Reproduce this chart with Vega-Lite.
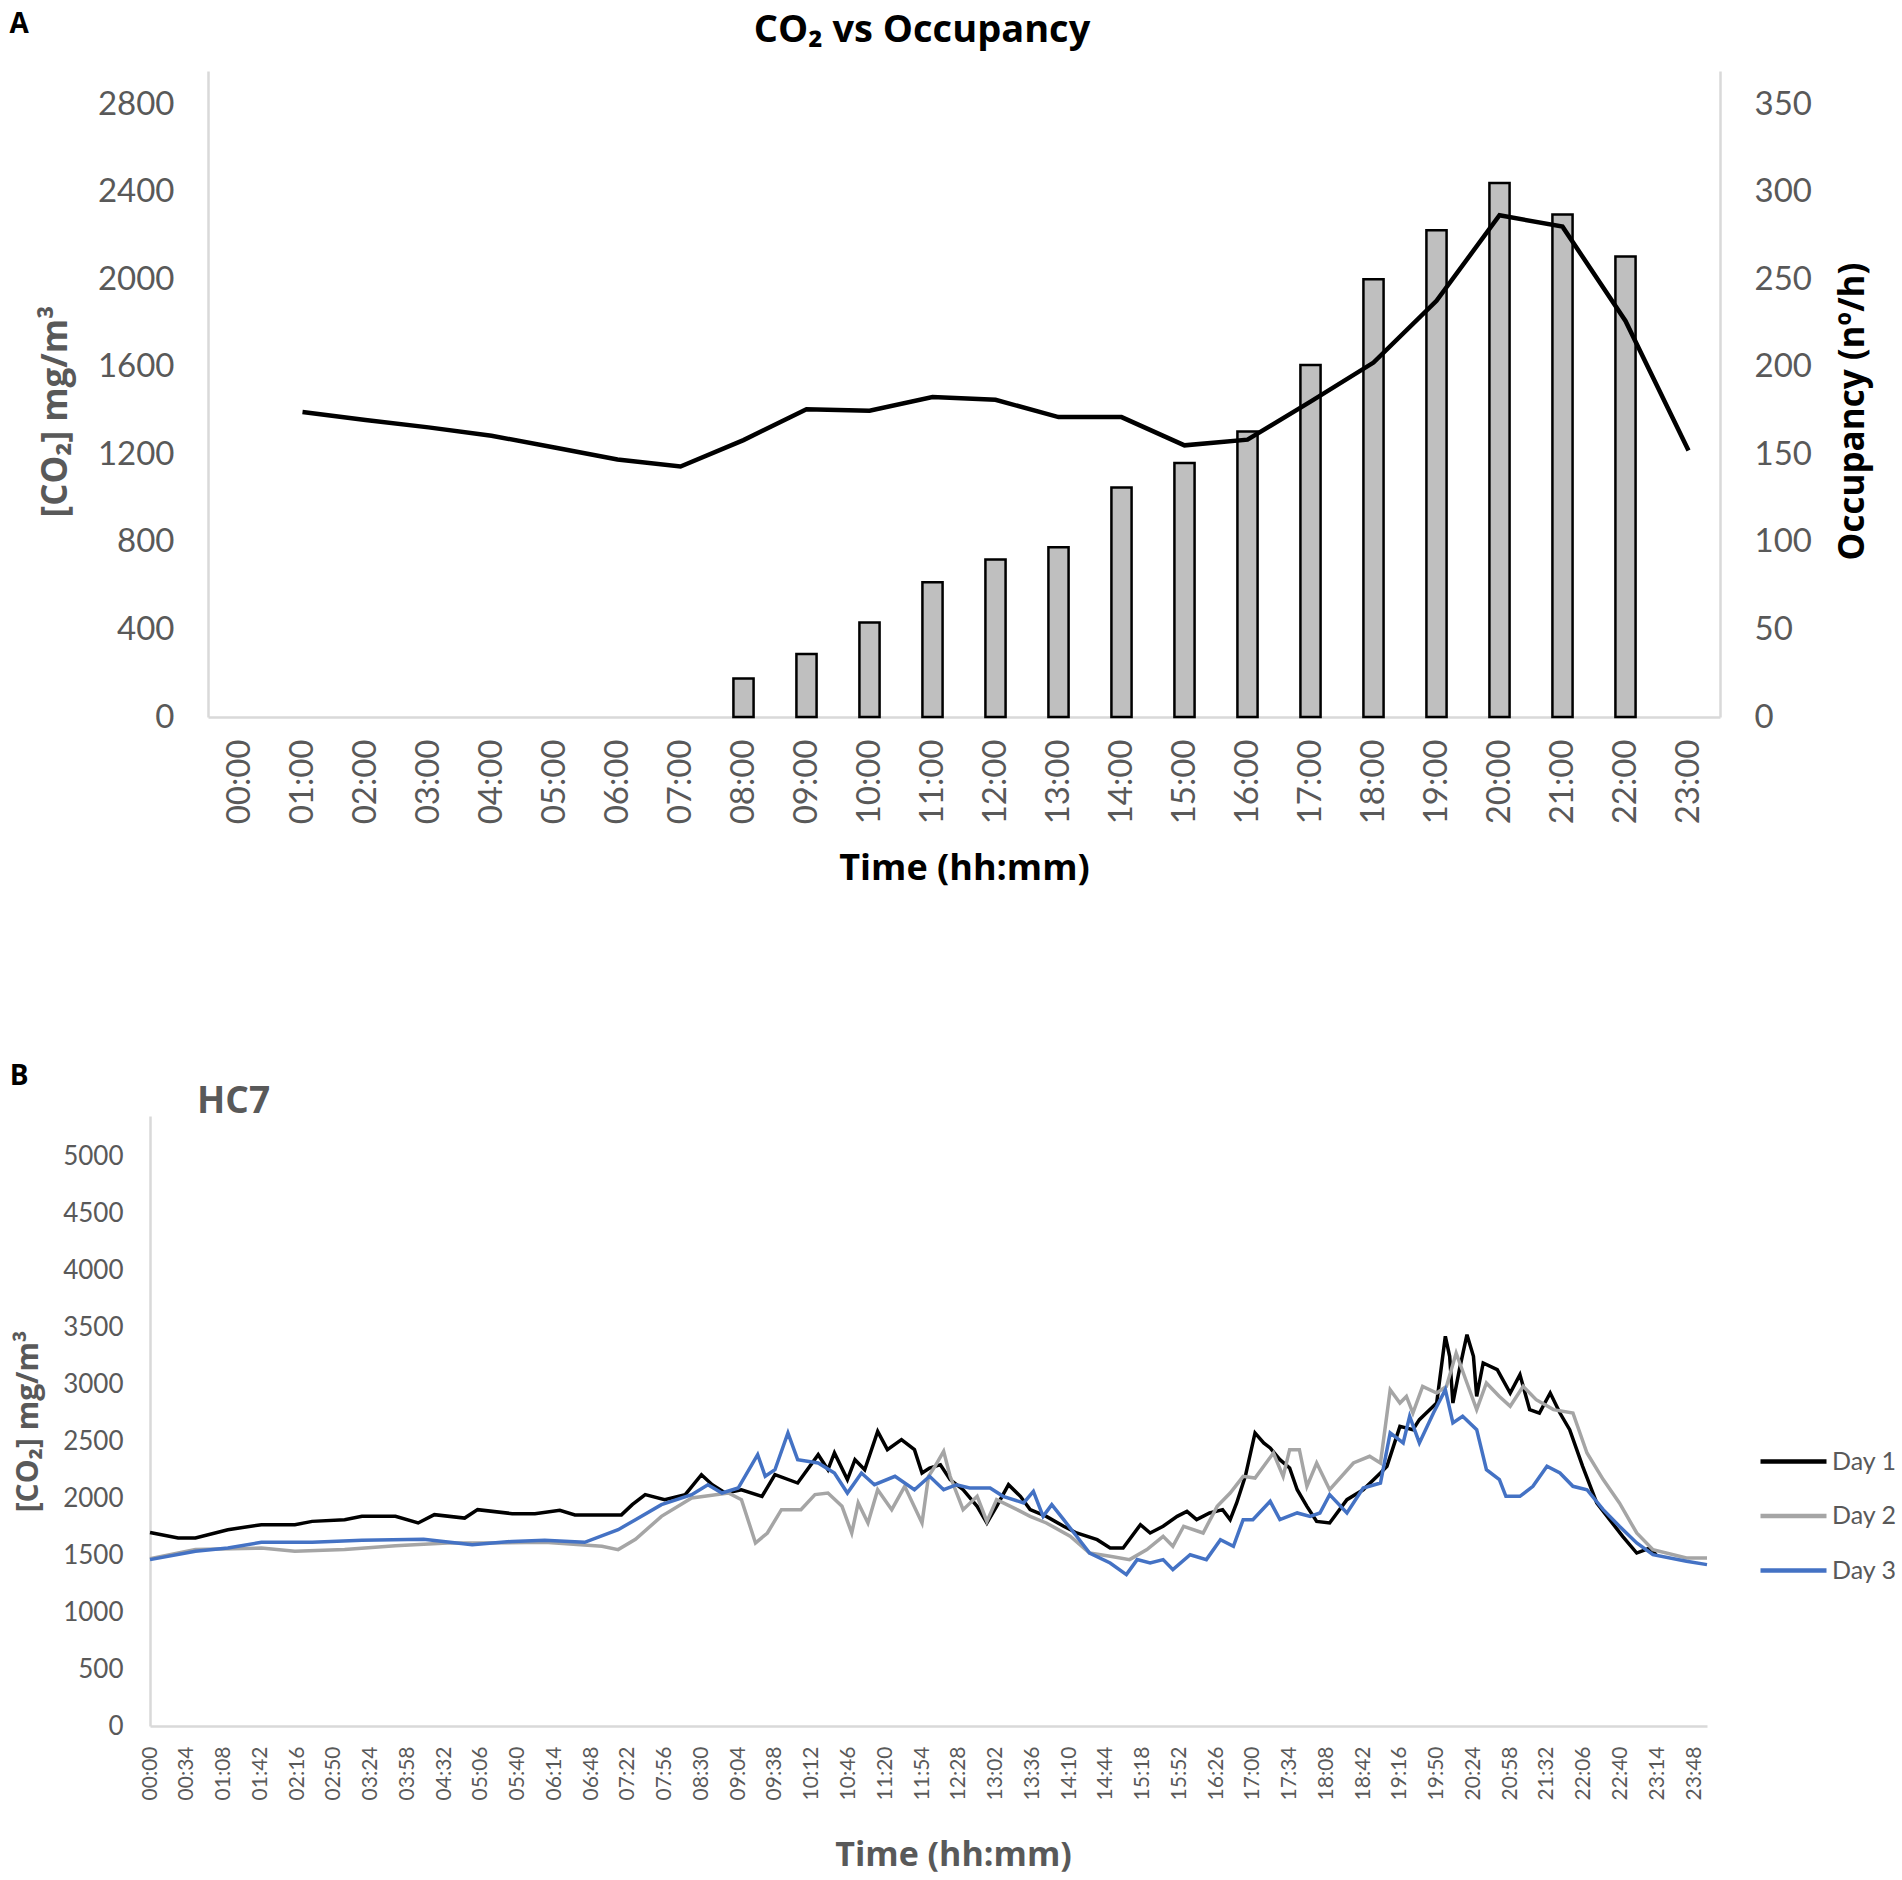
{
  "$schema": "https://vega.github.io/schema/vega-lite/v6.json",
  "background": "white",
  "padding": {"left": 9, "top": 11, "right": 5, "bottom": 5},
  "config": {
    "font": "Lato",
    "view": {"stroke": null},
    "axis": {
      "grid": false,
      "ticks": false,
      "domainColor": "#D9D9D9",
      "domainWidth": 2.5,
      "labelColor": "#595959",
      "labelFont": "Lato",
      "titleFont": "Open Sans",
      "titleFontWeight": "bold"
    },
    "title": {"font": "Open Sans", "fontWeight": "bold", "color": "black"}
  },
  "concat": [
    {
      "title": {"text": "A", "anchor": "start", "frame": "bounds", "fontSize": 28, "dx": -29, "dy": 27, "offset": 0},
      "vconcat": [
        {
          "width": 1570,
          "height": 646,
          "title": {"text": "CO₂ vs Occupancy", "fontSize": 38, "anchor": "middle", "frame": "group", "dx": -13, "offset": 21},
          "data": {
            "values": [
              {"hour": "00:00", "co2": null, "occ": null},
              {"hour": "01:00", "co2": 1393, "occ": null},
              {"hour": "02:00", "co2": 1357, "occ": null},
              {"hour": "03:00", "co2": 1323, "occ": null},
              {"hour": "04:00", "co2": 1285, "occ": null},
              {"hour": "05:00", "co2": 1231, "occ": null},
              {"hour": "06:00", "co2": 1176, "occ": null},
              {"hour": "07:00", "co2": 1144, "occ": null},
              {"hour": "08:00", "co2": 1265, "occ": 22},
              {"hour": "09:00", "co2": 1406, "occ": 36},
              {"hour": "10:00", "co2": 1399, "occ": 54},
              {"hour": "11:00", "co2": 1462, "occ": 77},
              {"hour": "12:00", "co2": 1449, "occ": 90},
              {"hour": "13:00", "co2": 1370, "occ": 97},
              {"hour": "14:00", "co2": 1370, "occ": 131},
              {"hour": "15:00", "co2": 1241, "occ": 145},
              {"hour": "16:00", "co2": 1267, "occ": 163},
              {"hour": "17:00", "co2": 1441, "occ": 201},
              {"hour": "18:00", "co2": 1619, "occ": 250},
              {"hour": "19:00", "co2": 1901, "occ": 278},
              {"hour": "20:00", "co2": 2292, "occ": 305},
              {"hour": "21:00", "co2": 2240, "occ": 287},
              {"hour": "22:00", "co2": 1809, "occ": 263},
              {"hour": "23:00", "co2": 1217, "occ": null}
            ]
          },
          "encoding": {
            "x": {
              "field": "hour",
              "type": "ordinal",
              "scale": {
                "domain": ["00:00","01:00","02:00","03:00","04:00","05:00","06:00","07:00","08:00","09:00","10:00","11:00","12:00","13:00","14:00","15:00","16:00","17:00","18:00","19:00","20:00","21:00","22:00","23:00"],
                "range": [58, 1570],
                "paddingInner": 0,
                "paddingOuter": 0
              },
              "axis": {
                "title": "Time (hh:mm)",
                "labelAngle": 270,
                "labelFontSize": 33,
                "labelPadding": 22,
                "titleFontSize": 36,
                "titleColor": "black",
                "titlePadding": 28
              }
            }
          },
          "layer": [
            {
              "mark": {"type": "bar", "fill": "#BFBFBF", "stroke": "black", "strokeWidth": 2.5, "width": {"band": 0.32}},
              "encoding": {
                "y": {
                  "field": "occ",
                  "type": "quantitative",
                  "scale": {"domain": [0, 368.9], "nice": false},
                  "axis": {
                    "orient": "right",
                    "values": [0, 50, 100, 150, 200, 250, 300, 350],
                    "format": "d",
                    "title": "Occupancy (nº/h)",
                    "titleAngle": 270,
                    "titleBaseline": "top",
                    "titleY": 340,
                    "labelFontSize": 33,
                    "labelPadding": 34,
                    "titleFontSize": 35,
                    "titleColor": "black",
                    "titlePadding": 24
                  }
                }
              }
            },
            {
              "mark": {"type": "line", "color": "black", "strokeWidth": 4.5},
              "encoding": {
                "y": {
                  "field": "co2",
                  "type": "quantitative",
                  "scale": {"domain": [0, 2951], "nice": false},
                  "axis": {
                    "orient": "left",
                    "offset": -58,
                    "values": [0, 400, 800, 1200, 1600, 2000, 2400, 2800],
                    "format": "d",
                    "title": "[CO₂] mg/m³",
                    "titleY": 340,
                    "labelFontSize": 33,
                    "labelPadding": 34,
                    "titleFontSize": 35,
                    "titleColor": "#595959",
                    "titlePadding": 24
                  }
                }
              }
            }
          ],
          "resolve": {"scale": {"y": "independent"}}
        }
      ]
    },
    {
      "title": {"text": "B", "anchor": "start", "frame": "bounds", "fontSize": 28, "dx": -4, "offset": -8},
      "vconcat": [
        {
          "width": 1557,
          "height": 610,
          "title": {"text": "HC7", "anchor": "start", "frame": "group", "dx": 47, "fontSize": 37, "color": "#595959", "offset": -5},
          "data": {
            "values": [
              {"day": "Day 1", "min": 0, "co2": 1700}, {"day": "Day 1", "min": 26, "co2": 1652}, {"day": "Day 1", "min": 42, "co2": 1652},
              {"day": "Day 1", "min": 72, "co2": 1725}, {"day": "Day 1", "min": 103, "co2": 1769}, {"day": "Day 1", "min": 134, "co2": 1769},
              {"day": "Day 1", "min": 150, "co2": 1798}, {"day": "Day 1", "min": 180, "co2": 1813}, {"day": "Day 1", "min": 196, "co2": 1842},
              {"day": "Day 1", "min": 227, "co2": 1842}, {"day": "Day 1", "min": 248, "co2": 1784}, {"day": "Day 1", "min": 263, "co2": 1857},
              {"day": "Day 1", "min": 291, "co2": 1827}, {"day": "Day 1", "min": 303, "co2": 1901}, {"day": "Day 1", "min": 335, "co2": 1866},
              {"day": "Day 1", "min": 356, "co2": 1866}, {"day": "Day 1", "min": 379, "co2": 1895}, {"day": "Day 1", "min": 393, "co2": 1855},
              {"day": "Day 1", "min": 436, "co2": 1855}, {"day": "Day 1", "min": 446, "co2": 1945}, {"day": "Day 1", "min": 458, "co2": 2033},
              {"day": "Day 1", "min": 476, "co2": 1989}, {"day": "Day 1", "min": 495, "co2": 2033}, {"day": "Day 1", "min": 510, "co2": 2208},
              {"day": "Day 1", "min": 520, "co2": 2120}, {"day": "Day 1", "min": 532, "co2": 2047}, {"day": "Day 1", "min": 547, "co2": 2076},
              {"day": "Day 1", "min": 566, "co2": 2018}, {"day": "Day 1", "min": 578, "co2": 2208}, {"day": "Day 1", "min": 599, "co2": 2135},
              {"day": "Day 1", "min": 618, "co2": 2384}, {"day": "Day 1", "min": 627, "co2": 2252}, {"day": "Day 1", "min": 633, "co2": 2399},
              {"day": "Day 1", "min": 645, "co2": 2165}, {"day": "Day 1", "min": 652, "co2": 2340}, {"day": "Day 1", "min": 661, "co2": 2252},
              {"day": "Day 1", "min": 673, "co2": 2589}, {"day": "Day 1", "min": 682, "co2": 2428}, {"day": "Day 1", "min": 695, "co2": 2516},
              {"day": "Day 1", "min": 707, "co2": 2428}, {"day": "Day 1", "min": 714, "co2": 2223}, {"day": "Day 1", "min": 721, "co2": 2267},
              {"day": "Day 1", "min": 731, "co2": 2296}, {"day": "Day 1", "min": 740, "co2": 2165}, {"day": "Day 1", "min": 752, "co2": 2076},
              {"day": "Day 1", "min": 765, "co2": 1930}, {"day": "Day 1", "min": 774, "co2": 1784}, {"day": "Day 1", "min": 783, "co2": 1930},
              {"day": "Day 1", "min": 794, "co2": 2120}, {"day": "Day 1", "min": 805, "co2": 2018}, {"day": "Day 1", "min": 814, "co2": 1901},
              {"day": "Day 1", "min": 829, "co2": 1842}, {"day": "Day 1", "min": 845, "co2": 1755}, {"day": "Day 1", "min": 857, "co2": 1696},
              {"day": "Day 1", "min": 876, "co2": 1637}, {"day": "Day 1", "min": 888, "co2": 1564}, {"day": "Day 1", "min": 900, "co2": 1564},
              {"day": "Day 1", "min": 916, "co2": 1769}, {"day": "Day 1", "min": 925, "co2": 1696}, {"day": "Day 1", "min": 937, "co2": 1755},
              {"day": "Day 1", "min": 950, "co2": 1842}, {"day": "Day 1", "min": 959, "co2": 1886}, {"day": "Day 1", "min": 968, "co2": 1813},
              {"day": "Day 1", "min": 980, "co2": 1872}, {"day": "Day 1", "min": 992, "co2": 1901}, {"day": "Day 1", "min": 999, "co2": 1813},
              {"day": "Day 1", "min": 1005, "co2": 1960}, {"day": "Day 1", "min": 1013, "co2": 2194}, {"day": "Day 1", "min": 1022, "co2": 2575},
              {"day": "Day 1", "min": 1030, "co2": 2487}, {"day": "Day 1", "min": 1036, "co2": 2443}, {"day": "Day 1", "min": 1045, "co2": 2340},
              {"day": "Day 1", "min": 1054, "co2": 2267}, {"day": "Day 1", "min": 1061, "co2": 2076}, {"day": "Day 1", "min": 1070, "co2": 1930},
              {"day": "Day 1", "min": 1079, "co2": 1798}, {"day": "Day 1", "min": 1091, "co2": 1784}, {"day": "Day 1", "min": 1107, "co2": 1989},
              {"day": "Day 1", "min": 1122, "co2": 2076}, {"day": "Day 1", "min": 1138, "co2": 2223}, {"day": "Day 1", "min": 1144, "co2": 2282},
              {"day": "Day 1", "min": 1150, "co2": 2457}, {"day": "Day 1", "min": 1156, "co2": 2633}, {"day": "Day 1", "min": 1168, "co2": 2604},
              {"day": "Day 1", "min": 1174, "co2": 2692}, {"day": "Day 1", "min": 1190, "co2": 2838}, {"day": "Day 1", "min": 1198, "co2": 3424},
              {"day": "Day 1", "min": 1202, "co2": 3248}, {"day": "Day 1", "min": 1205, "co2": 2838}, {"day": "Day 1", "min": 1211, "co2": 3131},
              {"day": "Day 1", "min": 1218, "co2": 3438}, {"day": "Day 1", "min": 1224, "co2": 3248}, {"day": "Day 1", "min": 1227, "co2": 2896},
              {"day": "Day 1", "min": 1233, "co2": 3190}, {"day": "Day 1", "min": 1246, "co2": 3131}, {"day": "Day 1", "min": 1258, "co2": 2926},
              {"day": "Day 1", "min": 1267, "co2": 3087}, {"day": "Day 1", "min": 1276, "co2": 2780}, {"day": "Day 1", "min": 1285, "co2": 2750},
              {"day": "Day 1", "min": 1295, "co2": 2926}, {"day": "Day 1", "min": 1304, "co2": 2750}, {"day": "Day 1", "min": 1313, "co2": 2604},
              {"day": "Day 1", "min": 1325, "co2": 2282}, {"day": "Day 1", "min": 1338, "co2": 1960}, {"day": "Day 1", "min": 1350, "co2": 1813},
              {"day": "Day 1", "min": 1362, "co2": 1667}, {"day": "Day 1", "min": 1375, "co2": 1520}, {"day": "Day 1", "min": 1387, "co2": 1564},
              {"day": "Day 1", "min": 1393, "co2": 1505},

              {"day": "Day 2", "min": 0, "co2": 1470}, {"day": "Day 2", "min": 42, "co2": 1550}, {"day": "Day 2", "min": 103, "co2": 1564},
              {"day": "Day 2", "min": 134, "co2": 1535}, {"day": "Day 2", "min": 180, "co2": 1550}, {"day": "Day 2", "min": 227, "co2": 1584},
              {"day": "Day 2", "min": 275, "co2": 1608}, {"day": "Day 2", "min": 303, "co2": 1608}, {"day": "Day 2", "min": 365, "co2": 1614},
              {"day": "Day 2", "min": 418, "co2": 1579}, {"day": "Day 2", "min": 433, "co2": 1550}, {"day": "Day 2", "min": 449, "co2": 1640},
              {"day": "Day 2", "min": 473, "co2": 1842}, {"day": "Day 2", "min": 501, "co2": 2004}, {"day": "Day 2", "min": 535, "co2": 2047},
              {"day": "Day 2", "min": 547, "co2": 1989}, {"day": "Day 2", "min": 560, "co2": 1608}, {"day": "Day 2", "min": 571, "co2": 1696},
              {"day": "Day 2", "min": 584, "co2": 1901}, {"day": "Day 2", "min": 602, "co2": 1901}, {"day": "Day 2", "min": 615, "co2": 2033},
              {"day": "Day 2", "min": 627, "co2": 2047}, {"day": "Day 2", "min": 640, "co2": 1930}, {"day": "Day 2", "min": 649, "co2": 1696},
              {"day": "Day 2", "min": 655, "co2": 1960}, {"day": "Day 2", "min": 664, "co2": 1784}, {"day": "Day 2", "min": 673, "co2": 2076},
              {"day": "Day 2", "min": 686, "co2": 1901}, {"day": "Day 2", "min": 698, "co2": 2106}, {"day": "Day 2", "min": 714, "co2": 1784},
              {"day": "Day 2", "min": 720, "co2": 2194}, {"day": "Day 2", "min": 726, "co2": 2282}, {"day": "Day 2", "min": 734, "co2": 2413},
              {"day": "Day 2", "min": 740, "co2": 2194}, {"day": "Day 2", "min": 752, "co2": 1901}, {"day": "Day 2", "min": 765, "co2": 2018},
              {"day": "Day 2", "min": 774, "co2": 1798}, {"day": "Day 2", "min": 783, "co2": 1989}, {"day": "Day 2", "min": 802, "co2": 1901},
              {"day": "Day 2", "min": 814, "co2": 1842}, {"day": "Day 2", "min": 829, "co2": 1784}, {"day": "Day 2", "min": 851, "co2": 1667},
              {"day": "Day 2", "min": 869, "co2": 1520}, {"day": "Day 2", "min": 888, "co2": 1491}, {"day": "Day 2", "min": 906, "co2": 1462},
              {"day": "Day 2", "min": 922, "co2": 1550}, {"day": "Day 2", "min": 937, "co2": 1667}, {"day": "Day 2", "min": 946, "co2": 1579},
              {"day": "Day 2", "min": 956, "co2": 1755}, {"day": "Day 2", "min": 974, "co2": 1696}, {"day": "Day 2", "min": 987, "co2": 1930},
              {"day": "Day 2", "min": 999, "co2": 2047}, {"day": "Day 2", "min": 1011, "co2": 2194}, {"day": "Day 2", "min": 1022, "co2": 2179},
              {"day": "Day 2", "min": 1039, "co2": 2399}, {"day": "Day 2", "min": 1048, "co2": 2194}, {"day": "Day 2", "min": 1054, "co2": 2428},
              {"day": "Day 2", "min": 1063, "co2": 2428}, {"day": "Day 2", "min": 1070, "co2": 2106}, {"day": "Day 2", "min": 1079, "co2": 2311},
              {"day": "Day 2", "min": 1091, "co2": 2076}, {"day": "Day 2", "min": 1113, "co2": 2311}, {"day": "Day 2", "min": 1128, "co2": 2370},
              {"day": "Day 2", "min": 1138, "co2": 2311}, {"day": "Day 2", "min": 1147, "co2": 2955}, {"day": "Day 2", "min": 1156, "co2": 2838},
              {"day": "Day 2", "min": 1162, "co2": 2896}, {"day": "Day 2", "min": 1168, "co2": 2750}, {"day": "Day 2", "min": 1177, "co2": 2984},
              {"day": "Day 2", "min": 1190, "co2": 2926}, {"day": "Day 2", "min": 1199, "co2": 2984}, {"day": "Day 2", "min": 1208, "co2": 3277},
              {"day": "Day 2", "min": 1218, "co2": 3014}, {"day": "Day 2", "min": 1227, "co2": 2780}, {"day": "Day 2", "min": 1236, "co2": 3014},
              {"day": "Day 2", "min": 1248, "co2": 2896}, {"day": "Day 2", "min": 1258, "co2": 2809}, {"day": "Day 2", "min": 1270, "co2": 2984},
              {"day": "Day 2", "min": 1282, "co2": 2867}, {"day": "Day 2", "min": 1298, "co2": 2780}, {"day": "Day 2", "min": 1316, "co2": 2750},
              {"day": "Day 2", "min": 1329, "co2": 2399}, {"day": "Day 2", "min": 1344, "co2": 2165}, {"day": "Day 2", "min": 1359, "co2": 1960},
              {"day": "Day 2", "min": 1375, "co2": 1696}, {"day": "Day 2", "min": 1390, "co2": 1550}, {"day": "Day 2", "min": 1421, "co2": 1476},
              {"day": "Day 2", "min": 1440, "co2": 1476},

              {"day": "Day 3", "min": 0, "co2": 1462}, {"day": "Day 3", "min": 42, "co2": 1535}, {"day": "Day 3", "min": 72, "co2": 1564},
              {"day": "Day 3", "min": 103, "co2": 1614}, {"day": "Day 3", "min": 150, "co2": 1614}, {"day": "Day 3", "min": 196, "co2": 1632},
              {"day": "Day 3", "min": 253, "co2": 1640}, {"day": "Day 3", "min": 298, "co2": 1593}, {"day": "Day 3", "min": 335, "co2": 1622},
              {"day": "Day 3", "min": 365, "co2": 1632}, {"day": "Day 3", "min": 402, "co2": 1614}, {"day": "Day 3", "min": 433, "co2": 1725},
              {"day": "Day 3", "min": 449, "co2": 1813}, {"day": "Day 3", "min": 473, "co2": 1945}, {"day": "Day 3", "min": 501, "co2": 2033},
              {"day": "Day 3", "min": 516, "co2": 2120}, {"day": "Day 3", "min": 529, "co2": 2047}, {"day": "Day 3", "min": 544, "co2": 2091},
              {"day": "Day 3", "min": 562, "co2": 2384}, {"day": "Day 3", "min": 569, "co2": 2194}, {"day": "Day 3", "min": 578, "co2": 2252},
              {"day": "Day 3", "min": 590, "co2": 2575}, {"day": "Day 3", "min": 599, "co2": 2340}, {"day": "Day 3", "min": 618, "co2": 2311},
              {"day": "Day 3", "min": 633, "co2": 2223}, {"day": "Day 3", "min": 645, "co2": 2047}, {"day": "Day 3", "min": 658, "co2": 2223},
              {"day": "Day 3", "min": 670, "co2": 2120}, {"day": "Day 3", "min": 689, "co2": 2194}, {"day": "Day 3", "min": 707, "co2": 2076},
              {"day": "Day 3", "min": 721, "co2": 2194}, {"day": "Day 3", "min": 734, "co2": 2076}, {"day": "Day 3", "min": 746, "co2": 2120},
              {"day": "Day 3", "min": 758, "co2": 2091}, {"day": "Day 3", "min": 777, "co2": 2091}, {"day": "Day 3", "min": 789, "co2": 2018},
              {"day": "Day 3", "min": 808, "co2": 1960}, {"day": "Day 3", "min": 817, "co2": 2062}, {"day": "Day 3", "min": 826, "co2": 1842},
              {"day": "Day 3", "min": 834, "co2": 1945}, {"day": "Day 3", "min": 845, "co2": 1813}, {"day": "Day 3", "min": 857, "co2": 1667},
              {"day": "Day 3", "min": 869, "co2": 1520}, {"day": "Day 3", "min": 888, "co2": 1432}, {"day": "Day 3", "min": 903, "co2": 1330},
              {"day": "Day 3", "min": 913, "co2": 1462}, {"day": "Day 3", "min": 925, "co2": 1432}, {"day": "Day 3", "min": 937, "co2": 1462},
              {"day": "Day 3", "min": 946, "co2": 1374}, {"day": "Day 3", "min": 962, "co2": 1505}, {"day": "Day 3", "min": 977, "co2": 1462},
              {"day": "Day 3", "min": 990, "co2": 1637}, {"day": "Day 3", "min": 1002, "co2": 1579}, {"day": "Day 3", "min": 1011, "co2": 1813},
              {"day": "Day 3", "min": 1020, "co2": 1813}, {"day": "Day 3", "min": 1036, "co2": 1974}, {"day": "Day 3", "min": 1045, "co2": 1813},
              {"day": "Day 3", "min": 1061, "co2": 1872}, {"day": "Day 3", "min": 1073, "co2": 1842}, {"day": "Day 3", "min": 1082, "co2": 1872},
              {"day": "Day 3", "min": 1091, "co2": 2033}, {"day": "Day 3", "min": 1107, "co2": 1872}, {"day": "Day 3", "min": 1122, "co2": 2091},
              {"day": "Day 3", "min": 1138, "co2": 2135}, {"day": "Day 3", "min": 1147, "co2": 2575}, {"day": "Day 3", "min": 1159, "co2": 2487},
              {"day": "Day 3", "min": 1165, "co2": 2721}, {"day": "Day 3", "min": 1174, "co2": 2487}, {"day": "Day 3", "min": 1187, "co2": 2750},
              {"day": "Day 3", "min": 1198, "co2": 2955}, {"day": "Day 3", "min": 1205, "co2": 2663}, {"day": "Day 3", "min": 1214, "co2": 2721},
              {"day": "Day 3", "min": 1227, "co2": 2604}, {"day": "Day 3", "min": 1236, "co2": 2252}, {"day": "Day 3", "min": 1248, "co2": 2165},
              {"day": "Day 3", "min": 1254, "co2": 2018}, {"day": "Day 3", "min": 1267, "co2": 2018}, {"day": "Day 3", "min": 1279, "co2": 2106},
              {"day": "Day 3", "min": 1292, "co2": 2282}, {"day": "Day 3", "min": 1304, "co2": 2223}, {"day": "Day 3", "min": 1316, "co2": 2106},
              {"day": "Day 3", "min": 1329, "co2": 2076}, {"day": "Day 3", "min": 1344, "co2": 1901}, {"day": "Day 3", "min": 1359, "co2": 1755},
              {"day": "Day 3", "min": 1375, "co2": 1608}, {"day": "Day 3", "min": 1390, "co2": 1505}, {"day": "Day 3", "min": 1421, "co2": 1447},
              {"day": "Day 3", "min": 1440, "co2": 1418}
            ]
          },
          "mark": {"type": "line", "strokeWidth": 3.5},
          "encoding": {
            "x": {
              "field": "min",
              "type": "quantitative",
              "scale": {"domain": [0, 1440], "nice": false},
              "axis": {
                "values": [0,34,68,102,136,170,204,238,272,306,340,374,408,442,476,510,544,578,612,646,680,714,748,782,816,850,884,918,952,986,1020,1054,1088,1122,1156,1190,1224,1258,1292,1326,1360,1394,1428],
                "labelExpr": "(floor(datum.value/60) < 10 ? '0' : '') + floor(datum.value/60) + ':' + (datum.value % 60 < 10 ? '0' : '') + (datum.value % 60)",
                "labelAngle": 270,
                "labelFontSize": 21,
                "labelPadding": 20,
                "labelOverlap": false,
                "labelFlush": false,
                "title": "Time (hh:mm)",
                "titleX": 803,
                "titleColor": "#595959",
                "titleFontSize": 34,
                "titlePadding": 39
              }
            },
            "y": {
              "field": "co2",
              "type": "quantitative",
              "scale": {"domain": [0, 5360], "nice": false},
              "axis": {
                "values": [0,500,1000,1500,2000,2500,3000,3500,4000,4500,5000],
                "format": "d",
                "labelFontSize": 26,
                "labelPadding": 27,
                "title": "[CO₂] mg/m³",
                "titleColor": "#595959",
                "titleFontSize": 30,
                "titlePadding": 19
              }
            },
            "color": {
              "field": "day",
              "type": "nominal",
              "scale": {"domain": ["Day 1", "Day 2", "Day 3"], "range": ["#000000", "#A5A5A5", "#4472C4"]},
              "legend": {
                "title": null,
                "orient": "none",
                "legendX": 1608,
                "legendY": 1355,
                "symbolType": "stroke",
                "symbolSize": 4356,
                "symbolStrokeWidth": 4.5,
                "labelFontSize": 25,
                "labelColor": "#595959",
                "labelFont": "Lato",
                "labelOffset": 3,
                "rowPadding": 5.5
              }
            }
          }
        }
      ]
    }
  ],
  "columns": 1,
  "spacing": 176
}
